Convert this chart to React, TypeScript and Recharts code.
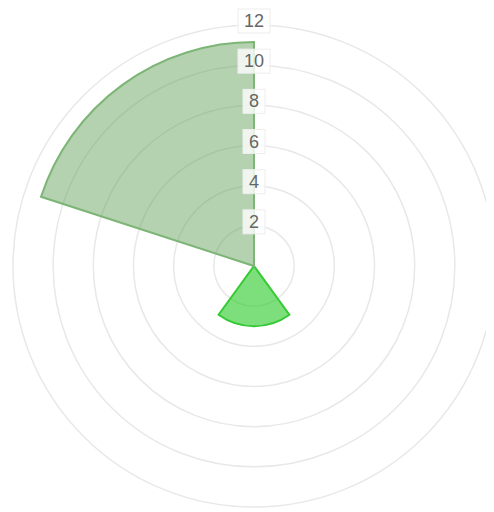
import React from "react";
import {
  RadialBarChart,
  RadialBar,
  PolarGrid,
  PolarAngleAxis,
  PolarRadiusAxis,
  Cell,
} from "recharts";

const categories = ["A", "B", "C", "D", "E"];
const values = [0, 0, 3, 0, 11.15];
const radiusTicks = [2, 4, 6, 8, 10, 12];

const FILLS = ["#60a055", "#60a055", "#2ccc2a", "#60a055", "#60a055"];
const OPACITIES = [0.47, 0.47, 0.62, 0.47, 0.47];
const STROKES = ["#7db577", "#7db577", "#36c936", "#7db577", "#7db577"];

const chartData = categories.map((name, i) => ({ name, value: values[i] }));

function RadiusTick(props: any) {
  const { x, y, payload } = props;
  const label = String(payload.value);
  const w = label.length * 10 + 12;
  return (
    <g>
      <rect x={x - w / 2} y={y - 16} width={w} height={24} fill="#fff" fillOpacity={0.8} stroke="#ededed" />
      <text x={x} y={y} dy={2} textAnchor="middle" fill="#666" fontSize={18} fontFamily="Liberation Sans, Arial, sans-serif">
        {label}
      </text>
    </g>
  );
}

export default function App() {
  return (
    <div style={{ width: 486, height: 504 }}>
      <RadialBarChart
        width={486}
        height={504}
        data={chartData}
        layout="centric"
        cx={246}
        cy={258}
        innerRadius={0}
        outerRadius={241}
        startAngle={18}
        endAngle={-342}
        barCategoryGap={0}
        barGap={0}
        margin={{ top: 0, right: 0, bottom: 0, left: 0 }}
      >
        <PolarGrid gridType="circle" radialLines={false} stroke="#e8e8e8" strokeWidth={1.5} />
        <PolarAngleAxis type="category" dataKey="name" tick={false} axisLine={false} />
        <PolarRadiusAxis
          type="number"
          domain={[0, 12]}
          ticks={radiusTicks}
          angle={90}
          axisLine={false}
          tickLine={false}
          tick={<RadiusTick />}
        />
        <RadialBar dataKey="value" isAnimationActive={false} strokeWidth={2}>
          {chartData.map((d, i) => (
            <Cell key={`cell-${i}`} fill={FILLS[i]} fillOpacity={OPACITIES[i]} stroke={STROKES[i]} />
          ))}
        </RadialBar>
      </RadialBarChart>
    </div>
  );
}
